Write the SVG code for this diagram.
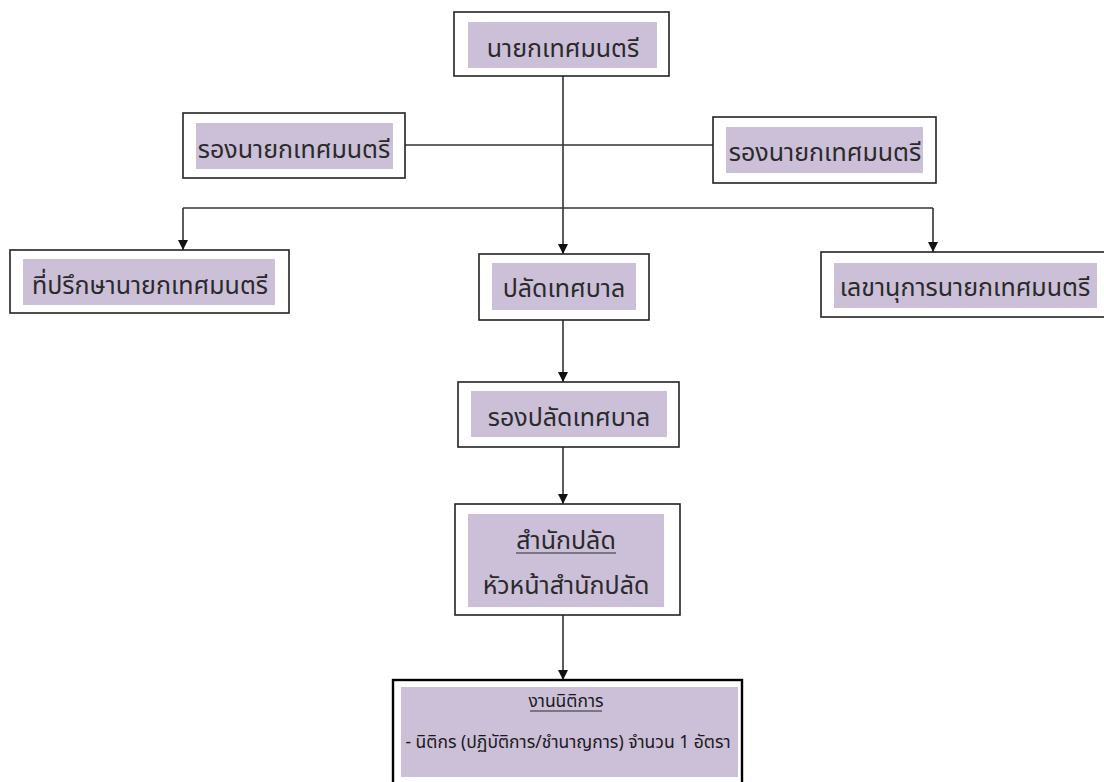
<svg xmlns="http://www.w3.org/2000/svg" width="1104" height="782" viewBox="0 0 1104 782">
<defs>
<style>
.outer{fill:#fff;stroke:#222;stroke-width:1.6}
.outer2{fill:#fff;stroke:#000;stroke-width:2.4}
.inner{fill:#CCBFD8}
.t{font-family:"Noto Sans Thai","Noto Sans","DejaVu Sans",sans-serif;font-size:25px;fill:#2a2a2a;text-anchor:middle}
.s{font-family:"Noto Sans Thai","Noto Sans","DejaVu Sans",sans-serif;font-size:17.5px;fill:#1a1a1a;text-anchor:middle}
.ln{fill:none;stroke:#333;stroke-width:1.6}
.ul{stroke:#2a2a2a;stroke-width:1.2}
</style>
<marker id="ah" viewBox="0 0 10 10" refX="10" refY="5" markerWidth="10" markerHeight="10" markerUnits="userSpaceOnUse" orient="auto">
<path d="M0,0 L10,5 L0,10 Z" fill="#111"/>
</marker>
</defs>
<rect width="1104" height="782" fill="#fff"/>
<g id="connectors">
<line class="ln" x1="563" y1="76" x2="563" y2="254" marker-end="url(#ah)"/>
<line class="ln" x1="405" y1="145" x2="713" y2="145"/>
<line class="ln" x1="183" y1="208" x2="933" y2="208"/>
<polyline class="ln" points="183,208 183,250" marker-end="url(#ah)"/>
<polyline class="ln" points="933,208 933,252" marker-end="url(#ah)"/>
<line class="ln" x1="563" y1="320" x2="563" y2="382" marker-end="url(#ah)"/>
<line class="ln" x1="563" y1="447" x2="563" y2="504" marker-end="url(#ah)"/>
<line class="ln" x1="563" y1="615" x2="563" y2="680" marker-end="url(#ah)"/>
</g>
<g id="n1">
<rect class="outer" x="454" y="12" width="215" height="64"/>
<rect class="inner" x="468" y="22" width="189" height="46"/>
<text class="t" x="563" y="57">นายกเทศมนตรี</text>
</g>
<g id="n2">
<rect class="outer" x="183" y="113" width="222" height="65"/>
<rect class="inner" x="196" y="123" width="197" height="46"/>
<text class="t" x="294" y="158">รองนายกเทศมนตรี</text>
</g>
<g id="n3">
<rect class="outer" x="713" y="117" width="223" height="66"/>
<rect class="inner" x="726" y="127" width="197" height="46"/>
<text class="t" x="825" y="161">รองนายกเทศมนตรี</text>
</g>
<g id="n4">
<rect class="outer" x="10" y="250" width="279" height="63"/>
<rect class="inner" x="23" y="259" width="252" height="46"/>
<text class="t" x="150" y="294">ที่ปรึกษานายกเทศมนตรี</text>
</g>
<g id="n5">
<rect class="outer" x="479" y="254" width="170" height="66"/>
<rect class="inner" x="492" y="263" width="144" height="47"/>
<text class="t" x="564" y="297">ปลัดเทศบาล</text>
</g>
<g id="n6">
<rect class="outer" x="821" y="252" width="290" height="65"/>
<rect class="inner" x="834" y="263" width="263" height="45"/>
<text class="t" x="965" y="296">เลขานุการนายกเทศมนตรี</text>
</g>
<g id="n7">
<rect class="outer" x="458" y="382" width="221" height="65"/>
<rect class="inner" x="471" y="391" width="196" height="46"/>
<text class="t" x="569" y="426">รองปลัดเทศบาล</text>
</g>
<g id="n8">
<rect class="outer" x="455" y="504" width="225" height="111"/>
<rect class="inner" x="468" y="514" width="196" height="93"/>
<text class="t" x="566" y="549">สำนักปลัด</text>
<line class="ul" x1="516" y1="553" x2="616" y2="553"/>
<text class="t" x="566" y="594">หัวหน้าสำนักปลัด</text>
</g>
<g id="n9">
<rect class="outer2" x="393" y="680" width="349" height="110"/>
<rect class="inner" x="401" y="687" width="337" height="90"/>
<text class="s" x="566" y="707">งานนิติการ</text>
<line class="ul" x1="530" y1="711" x2="602" y2="711"/>
<text class="s" x="568" y="748">- นิติกร (ปฏิบัติการ/ชำนาญการ) จำนวน 1 อัตรา</text>
</g>
</svg>
